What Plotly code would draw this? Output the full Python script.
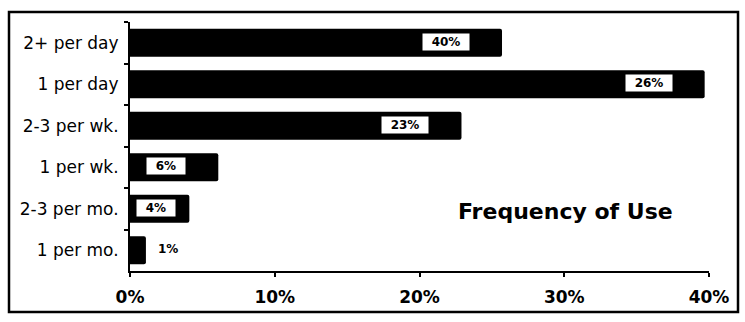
import plotly.graph_objects as go

categories = ["2+ per day", "1 per day", "2-3 per wk.", "1 per wk.", "2-3 per mo.", "1 per mo."]
values = [25.7, 39.7, 22.9, 6.1, 4.1, 1.1]
bar_labels = ["40%", "26%", "23%", "6%", "4%", "1%"]
tick_vals = [0, 10, 20, 30, 40]
tick_text = ["0%", "10%", "20%", "30%", "40%"]
title_text = "Frequency of Use"

W, H = 745, 322
ml, mr, mt, mb = 130, 36, 22, 51
pw, ph = W - ml - mr, H - mt - mb

fig = go.Figure()
fig.add_trace(go.Bar(
    y=categories, x=values, orientation="h",
    marker=dict(color="black", line=dict(width=0), cornerradius=2),
    hoverinfo="skip",
))

# bar value labels (white boxes inside bars, last one outside)
pad = "&nbsp;&nbsp;"
for cat, v, lab in zip(categories, values, bar_labels):
    if v > 5:
        shift, anchor, txt = -32, "right", f"{pad}<b>{lab}</b>{pad}"
    elif v > 2:
        shift, anchor, txt = -13, "right", f"{pad}<b>{lab}</b>{pad}"
    else:
        shift, anchor, txt = 10, "left", f"<b>{lab}</b>"
    fig.add_annotation(
        x=v, y=cat, xref="x", yref="y", text=txt,
        showarrow=False, xanchor=anchor, xshift=shift, yshift=1,
        bgcolor="white", borderpad=1,
        font=dict(family="DejaVu Sans", size=12, color="black"),
    )

def px_x(px):
    return (px - ml) / pw

def px_y(py):
    return (H - mb - py) / ph

fig.add_annotation(
    x=px_x(565), y=px_y(212), xref="paper", yref="paper",
    text=f"<b>{title_text}</b>", showarrow=False,
    xanchor="center", yanchor="middle",
    font=dict(family="DejaVu Sans", size=22, color="black"),
)

fig.add_shape(
    type="rect", xref="paper", yref="paper",
    x0=px_x(9), x1=px_x(738), y0=px_y(312), y1=px_y(12),
    line=dict(color="black", width=2.5), layer="above",
)

fig.update_layout(
    width=W, height=H,
    margin=dict(l=ml, r=mr, t=mt, b=mb),
    paper_bgcolor="white", plot_bgcolor="white",
    showlegend=False, bargap=0.32,
    xaxis=dict(
        range=[0, 40], tickvals=tick_vals, ticktext=tick_text,
        showgrid=False, zeroline=False, showline=True, linecolor="black", linewidth=2,
        ticks="outside", ticklen=4, tickwidth=2, tickcolor="black",
        ticklabelstandoff=6,
        tickfont=dict(family="DejaVu Sans", size=17, color="black", weight="bold"),
        fixedrange=True,
    ),
    yaxis=dict(
        categoryorder="array", categoryarray=categories, autorange="reversed",
        showgrid=False, zeroline=False, showline=True, linecolor="black", linewidth=2,
        ticks="outside", tickson="boundaries", ticklen=4, tickwidth=2, tickcolor="black",
        ticklabelstandoff=6,
        tickfont=dict(family="DejaVu Sans", size=17, color="black"),
        fixedrange=True,
    ),
)

fig.write_html("out.html")
